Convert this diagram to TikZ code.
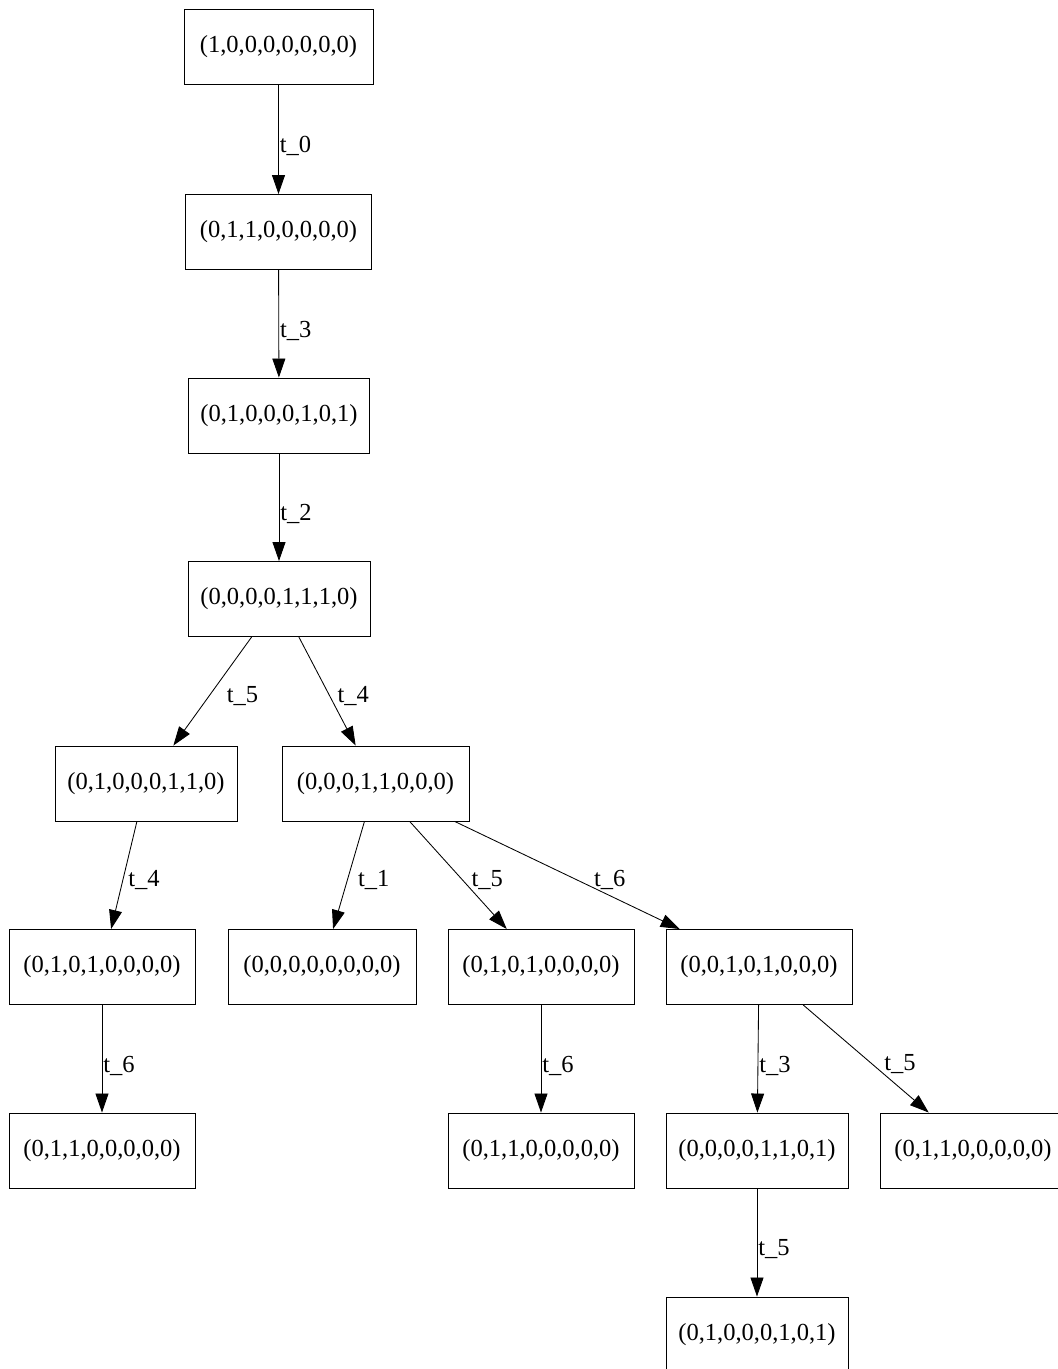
\documentclass[tikz,border=0pt]{standalone}
\usepackage{fontspec}
\setmainfont{Liberation Serif}
\usetikzlibrary{arrows.meta}

\def\wPage{1058}
\def\hPage{1369}

\tikzset{
  state/.style={draw, line width=0.95pt, minimum width=186pt, minimum height=75pt,
    inner sep=0pt, font=\fontsize{24.5}{29}\selectfont},
  arc/.style={->, line width=0.85pt},
  lbl/.style={inner sep=1pt, anchor=west, yshift=-5pt, font=\fontsize{24.5}{29}\selectfont},
}

\begin{document}
\begin{tikzpicture}[x=1pt, y=-1pt, >={Triangle[length=19pt, width=13pt]}]
      \useasboundingbox (0,0) rectangle (\wPage,\hPage);
      % marking graph
      \node[state, minimum width=189pt] (m0) at (278.5,46.5) {(1,0,0,0,0,0,0,0)};
      \node[state] (m1) at (278.5,232) {(0,1,1,0,0,0,0,0)};
      \node[state, minimum width=181pt] (m2) at (279,415.5) {(0,1,0,0,0,1,0,1)};
      \node[state, minimum width=182pt] (m3) at (279,599) {(0,0,0,0,1,1,1,0)};
      \node[state, minimum width=182pt] (m4) at (146,783.5) {(0,1,0,0,0,1,1,0)};
      \node[state, minimum width=187pt] (m5) at (375.5,783.5) {(0,0,0,1,1,0,0,0)};
      \node[state] (m6) at (102,967) {(0,1,0,1,0,0,0,0)};
      \node[state, minimum width=188pt] (m7) at (322,967) {(0,0,0,0,0,0,0,0)};
      \node[state] (m8) at (541,967) {(0,1,0,1,0,0,0,0)};
      \node[state] (m9) at (759,967) {(0,0,1,0,1,0,0,0)};
      \node[state] (m10) at (102,1150.5) {(0,1,1,0,0,0,0,0)};
      \node[state] (m11) at (541,1150.5) {(0,1,1,0,0,0,0,0)};
      \node[state, minimum width=182pt] (m12) at (757,1150.5) {(0,0,0,0,1,1,0,1)};
      \node[state] (m13) at (973,1150.5) {(0,1,1,0,0,0,0,0)};
      \node[state, minimum width=182pt] (m14) at (757,1334.5) {(0,1,0,0,0,1,0,1)};

      % transitions
      \draw[arc] (m0) -- node[lbl, yshift=-2pt] {t\_0} (m1);
      \draw[arc] (m1) -- node[lbl, yshift=-2pt] {t\_3} (m2);
      \draw[arc] (m2) -- node[lbl, yshift=-2pt] {t\_2} (m3);
      \draw[arc] (m3) -- node[lbl, xshift=13pt] {t\_5} (m4);
      \draw[arc] (m3) -- node[lbl, xshift=9pt] {t\_4} (m5);
      \draw[arc] (m4) -- node[lbl, xshift=3pt] {t\_4} (m6);
      \draw[arc] (m5) -- node[lbl, xshift=8pt] {t\_1} (m7);
      \draw[arc] (m5) -- node[lbl, xshift=12pt] {t\_5} (m8);
      \draw[arc] (m5) -- node[lbl, pos=0.6, anchor=south west, xshift=3pt] {t\_6} (m9);
      \draw[arc] (m6) -- node[lbl, yshift=-2pt] {t\_6} (m10);
      \draw[arc] (m8) -- node[lbl, yshift=-2pt] {t\_6} (m11);
      \draw[arc] (m9) -- node[lbl, yshift=-2pt] {t\_3} (m12);
      \draw[arc] (m9) -- node[lbl, xshift=17pt] {t\_5} (m13);
      \draw[arc] (m12) -- node[lbl, yshift=-2pt] {t\_5} (m14);
\end{tikzpicture}
\end{document}
